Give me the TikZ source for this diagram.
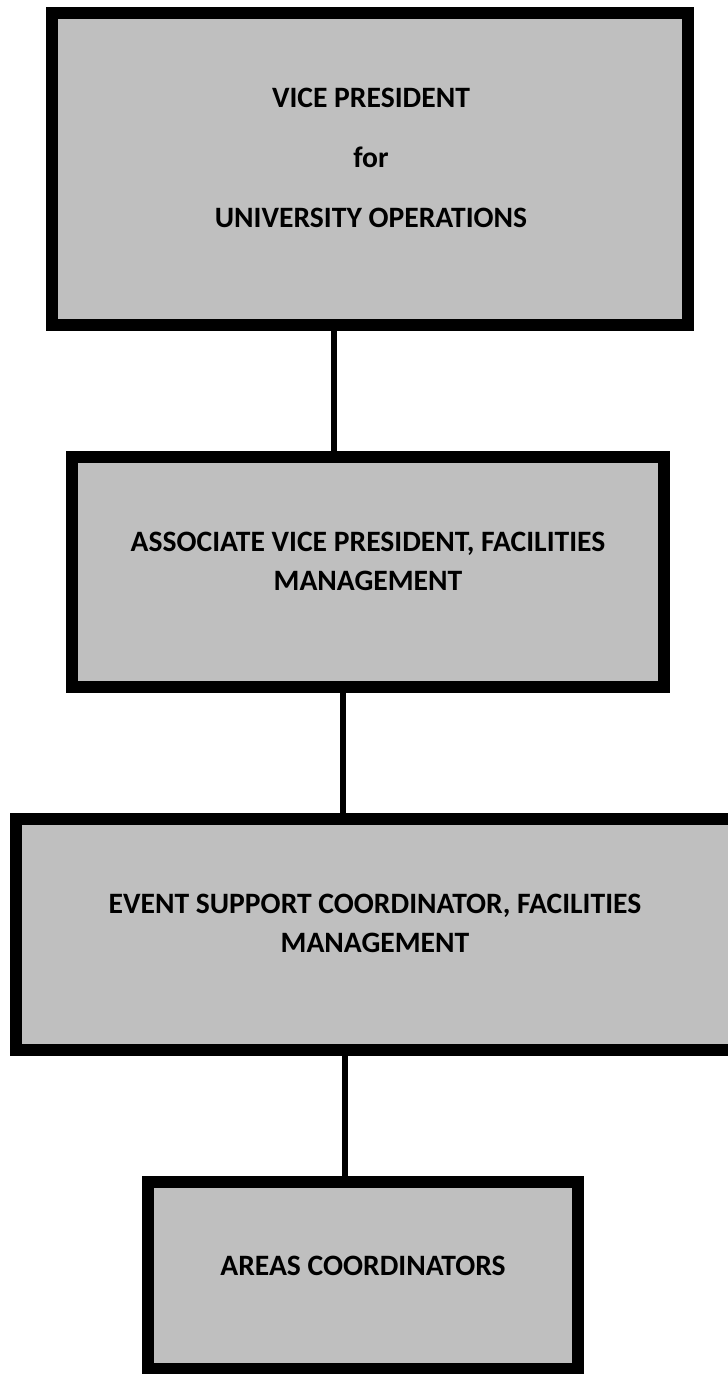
\documentclass[tikz,border=0pt]{standalone}
\usepackage{fontspec}
\setmainfont{Carlito}
\usepackage{tikz}
\definecolor{boxgray}{HTML}{BFBFBF}
\tikzset{
  orgbox/.style={draw=black, fill=boxgray, line width=12pt, inner sep=0pt},
  orgtext/.style={align=center, inner sep=0pt, font=\bfseries\fontsize{29.6}{39}\selectfont},
  orglink/.style={draw=black, line width=5.5pt}
}
\newcommand{\orgbox}[6]{\node[orgbox, minimum width=#4, minimum height=#5] (#1) at ( #2 , #3 ) {};}

\begin{document}
\begin{tikzpicture}[x=1pt,y=-1pt]
        \useasboundingbox (0,0) rectangle (728,1374);

        % boxes
        \orgbox{vp}{370}{169}{636pt}{312pt}{}
        \orgbox{avp}{368}{572}{592pt}{230pt}{}
        \orgbox{esc}{375}{934.5}{718pt}{231pt}{}
        \orgbox{area}{363}{1275}{430pt}{187pt}{}

        % titles
        \node[orgtext] (vptext) at (371,158) {VICE PRESIDENT\\[21pt]for\\[21pt]UNIVERSITY OPERATIONS};
        \node[orgtext] (avptext) at (368,561) {ASSOCIATE VICE PRESIDENT, FACILITIES\\MANAGEMENT};
        \node[orgtext] (esctext) at (375,923) {EVENT SUPPORT COORDINATOR, FACILITIES\\MANAGEMENT};
        \node[orgtext] (areatext) at (363,1266) {AREAS COORDINATORS};

        % links
        \draw[orglink] (vp.south -| 334,0) -- (avp.north -| 334,0);
        \draw[orglink] (avp.south -| 343,0) -- (esc.north -| 343,0);
        \draw[orglink] (esc.south -| 345,0) -- (area.north -| 345,0);

    \end{tikzpicture}
\end{document}
